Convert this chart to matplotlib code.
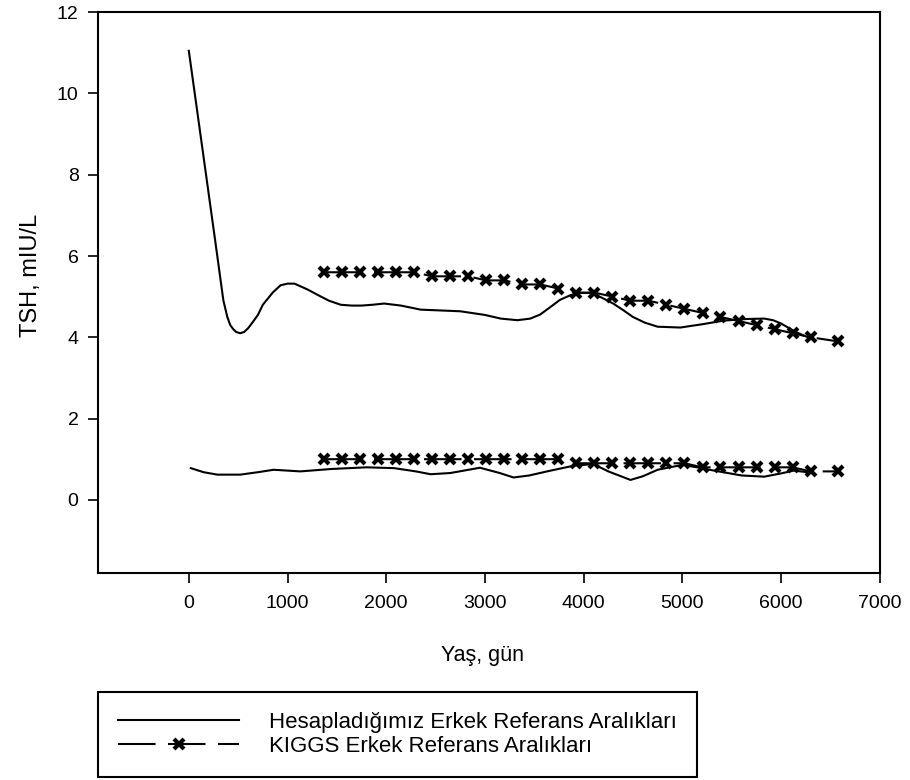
import matplotlib
matplotlib.use('Agg')
import matplotlib.pyplot as plt

plt.rcParams['font.family'] = ['Liberation Sans', 'DejaVu Sans']

# computed reference limits (age in days, TSH in mIU/L)
calc_upper_days = [0, 150, 270, 350, 390, 420, 450, 480, 520, 560, 600, 650, 700,
                   750, 850, 930, 1000, 1070, 1200, 1300, 1420, 1540, 1650, 1750,
                   1860, 1980, 2150, 2350, 2550, 2750, 3000, 3160, 3330, 3460,
                   3560, 3650, 3760, 3870, 3970, 4070, 4180, 4300, 4400, 4500,
                   4620, 4750, 4980, 5200, 5420, 5650, 5830, 5920, 6000, 6150, 6300]
calc_upper_tsh = [11.05, 8.43, 6.33, 4.91, 4.5, 4.3, 4.2, 4.13, 4.1, 4.13, 4.22, 4.38,
                  4.55, 4.8, 5.1, 5.28, 5.32, 5.32, 5.18, 5.05, 4.9, 4.8, 4.78, 4.78,
                  4.8, 4.83, 4.78, 4.68, 4.66, 4.64, 4.55, 4.46, 4.42, 4.46,
                  4.56, 4.72, 4.92, 5.04, 5.09, 5.09, 4.98, 4.83, 4.67, 4.5,
                  4.36, 4.26, 4.24, 4.32, 4.41, 4.45, 4.46, 4.42, 4.34, 4.13, 3.97]

calc_lower_days = [20, 150, 290, 520, 700, 860, 1130, 1450, 1800, 2080, 2300, 2450,
                   2650, 2950, 3150, 3290, 3450, 3630, 3900, 4100, 4250, 4475, 4600,
                   4750, 5000, 5150, 5320, 5600, 5830, 6000, 6130, 6300]
calc_lower_tsh = [0.78, 0.68, 0.62, 0.62, 0.68, 0.74, 0.7, 0.76, 0.8, 0.78, 0.7, 0.63,
                  0.66, 0.79, 0.66, 0.55, 0.6, 0.7, 0.84, 0.88, 0.7, 0.49, 0.58,
                  0.74, 0.86, 0.8, 0.72, 0.6, 0.57, 0.65, 0.72, 0.67]

# KIGGS reference limits
kiggs_days = [1370, 1553, 1735, 1918, 2100, 2283, 2466, 2648, 2831, 3013, 3196, 3379,
              3561, 3744, 3926, 4109, 4292, 4474, 4657, 4839, 5022, 5205, 5387, 5570,
              5752, 5935, 6118, 6300, 6574]
kiggs_upper = [5.6, 5.6, 5.6, 5.6, 5.6, 5.6, 5.5, 5.5, 5.5, 5.4, 5.4, 5.3,
               5.3, 5.2, 5.1, 5.1, 5.0, 4.9, 4.9, 4.8, 4.7, 4.6, 4.5, 4.4,
               4.3, 4.2, 4.1, 4.0, 3.9]
kiggs_lower = [1.0, 1.0, 1.0, 1.0, 1.0, 1.0, 1.0, 1.0, 1.0, 1.0, 1.0, 1.0,
               1.0, 1.0, 0.9, 0.9, 0.9, 0.9, 0.9, 0.9, 0.9, 0.8, 0.8, 0.8,
               0.8, 0.8, 0.8, 0.7, 0.7]

calc_label = 'Hesapladığımız Erkek Referans Aralıkları'
kiggs_label = 'KIGGS Erkek Referans Aralıkları'

fig = plt.figure(figsize=(9.1, 7.8), dpi=100)
ax = fig.add_axes([0.1077, 0.2654, 0.859, 0.719])

line_kw = dict(color='black', linewidth=1.5, solid_joinstyle='round')
kiggs_kw = dict(color='black', linewidth=1.5, linestyle=(0, (18, 6)),
                marker='x', markersize=7, markeredgewidth=3)

calc_line, = ax.plot(calc_upper_days, calc_upper_tsh, **line_kw)
ax.plot(calc_lower_days, calc_lower_tsh, **line_kw)
kiggs_line, = ax.plot(kiggs_days, kiggs_upper, **kiggs_kw)
ax.plot(kiggs_days, kiggs_lower, **kiggs_kw)

ax.set_xlim(-920, 7000)
ax.set_ylim(-1.8, 12)
ax.set_xticks(range(0, 7001, 1000))
ax.set_yticks(range(0, 13, 2))
ax.tick_params(direction='out', length=7, width=1.2, labelsize=14)
ax.tick_params(axis='y', pad=7)
ax.tick_params(axis='x', pad=9)
for spine in ax.spines.values():
    spine.set_linewidth(1.5)

ax.set_xlabel('Yaş, gün', fontsize=15.5)
ax.set_ylabel('TSH, mIU/L', fontsize=17)
ax.xaxis.set_label_coords(0.492, -0.128)
ax.yaxis.set_label_coords(-0.072, 0.53)

leg = fig.legend([calc_line, kiggs_line], [calc_label, kiggs_label],
                 loc='upper left', bbox_to_anchor=(98 / 910, 1 - 692 / 780),
                 borderaxespad=0, fontsize=16, handlelength=5.45,
                 handletextpad=1.35, labelspacing=0.12, borderpad=0.9,
                 numpoints=1, fancybox=False, edgecolor='black', framealpha=1)
leg.get_frame().set_linewidth(1.5)

fig.savefig('out.png', dpi=100)
